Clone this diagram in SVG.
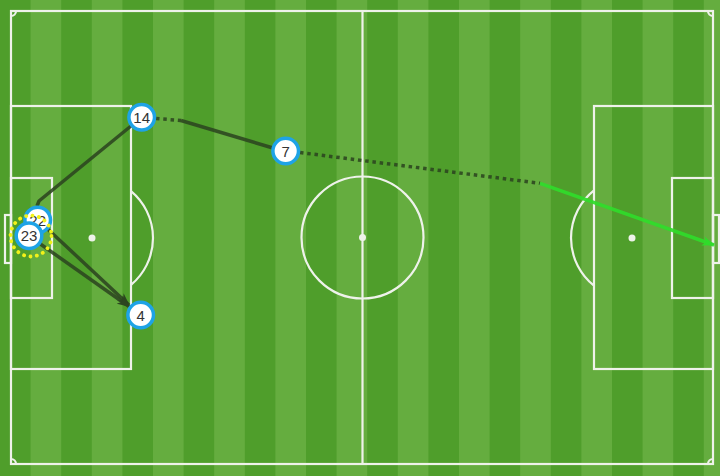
<svg xmlns="http://www.w3.org/2000/svg" width="720" height="476" viewBox="0 0 720 476">
<defs>
<pattern id="stripes" x="0" y="0" width="61.2" height="476" patternUnits="userSpaceOnUse">
<rect x="0" y="0" width="30.6" height="476" fill="#4f9e2b"/>
<rect x="30.6" y="0" width="30.6" height="476" fill="#65ad3f"/>
</pattern>
<marker id="arrDark" viewBox="0 0 12 10" refX="11" refY="5" markerWidth="13" markerHeight="11" markerUnits="userSpaceOnUse" orient="auto">
<path d="M0,0.5 L12,5 L0,9.5 L3.5,5 z" fill="#2c4520"/>
</marker>
<marker id="arrGreen" viewBox="0 0 12 10" refX="11" refY="5" markerWidth="13" markerHeight="11" markerUnits="userSpaceOnUse" orient="auto">
<path d="M0,0.5 L12,5 L0,9.5 L3.5,5 z" fill="#30dc2a"/>
</marker>
</defs>
<style>
.line{fill:none;stroke:#eef2ea;stroke-width:2.2}
.spot{fill:#eef2ea}
.pass{fill:none;stroke:#2c4520;stroke-width:3.5;stroke-opacity:0.88}
.dots{fill:none;stroke:#2c4520;stroke-width:3.5;stroke-dasharray:3.5 3.8;stroke-opacity:0.88}
.green{fill:none;stroke:#30dc2a;stroke-width:3.5;stroke-opacity:0.92}
.node circle{fill:#ffffff;stroke:#1ea3e6;stroke-width:3.5}
.node text{font-family:"Liberation Sans",Arial,sans-serif;font-size:15px;fill:#333333;text-anchor:middle;dominant-baseline:central}
.sel{fill:none;stroke:#f2f21a;stroke-width:3.8;stroke-dasharray:0.1 6.4;stroke-linecap:round}
</style>
<g id="pitch">
<rect x="0" y="0" width="720" height="476" fill="url(#stripes)"/>
<rect class="line" x="11" y="11" width="702" height="453"/>
<line class="line" x1="362.5" y1="11" x2="362.5" y2="464"/>
<circle class="line" cx="362.5" cy="237.5" r="61"/>
<circle class="spot" cx="362.5" cy="237.5" r="3.5"/>
<rect class="line" x="11" y="106" width="120" height="263"/>
<rect class="line" x="11" y="178" width="41" height="120"/>
<rect class="line" x="5" y="215" width="6" height="48"/>
<circle class="spot" cx="92" cy="238" r="3.5"/>
<path class="line" d="M131,191.1 A61,61 0 0 1 131,284.9"/>
<rect class="line" x="594" y="106" width="119" height="263"/>
<rect class="line" x="672" y="178" width="41" height="120"/>
<rect class="line" x="713" y="215" width="6" height="48"/>
<circle class="spot" cx="632" cy="238" r="3.5"/>
<path class="line" d="M594,190.3 A61,61 0 0 0 594,285.7"/>
<path class="line" d="M11,16 A5,5 0 0 0 16,11"/>
<path class="line" d="M11,459 A5,5 0 0 1 16,464"/>
<path class="line" d="M708,11 A5,5 0 0 0 713,16"/>
<path class="line" d="M713,459 A5,5 0 0 0 708,464"/>
</g>
<g id="connectors">
<path class="pass" d="M37,206 L39,201 L131,126"/>
<line class="dots" x1="156" y1="118.5" x2="181" y2="120.5"/>
<line class="pass" x1="181" y1="120.5" x2="273" y2="148"/>
<line class="dots" x1="300" y1="152.5" x2="540" y2="183.3"/>
<line class="green" x1="540" y1="183.3" x2="714" y2="245" marker-end="url(#arrGreen)"/>
<line class="pass" x1="38" y1="220" x2="129" y2="305" marker-end="url(#arrDark)"/>
<line class="pass" x1="29" y1="236" x2="129" y2="306.5" marker-end="url(#arrDark)"/>
</g>
<g id="node-14" class="node"><circle cx="141.7" cy="117.3" r="12.8"/><text x="141.7" y="117.3">14</text></g>
<g id="node-7" class="node"><circle cx="285.7" cy="151" r="12.8"/><text x="285.7" y="151">7</text></g>
<g id="node-4" class="node"><circle cx="140.7" cy="315" r="12.8"/><text x="140.7" y="315">4</text></g>
<g id="node-22" class="node"><circle cx="37.7" cy="220" r="12.8"/><text x="37.7" y="220">22</text></g>
<g id="selection"><circle class="sel" cx="31" cy="236" r="20.5"/></g>
<g id="node-23" class="node"><circle cx="29" cy="235.7" r="12.8"/><text x="29" y="235.7">23</text></g>
</svg>
